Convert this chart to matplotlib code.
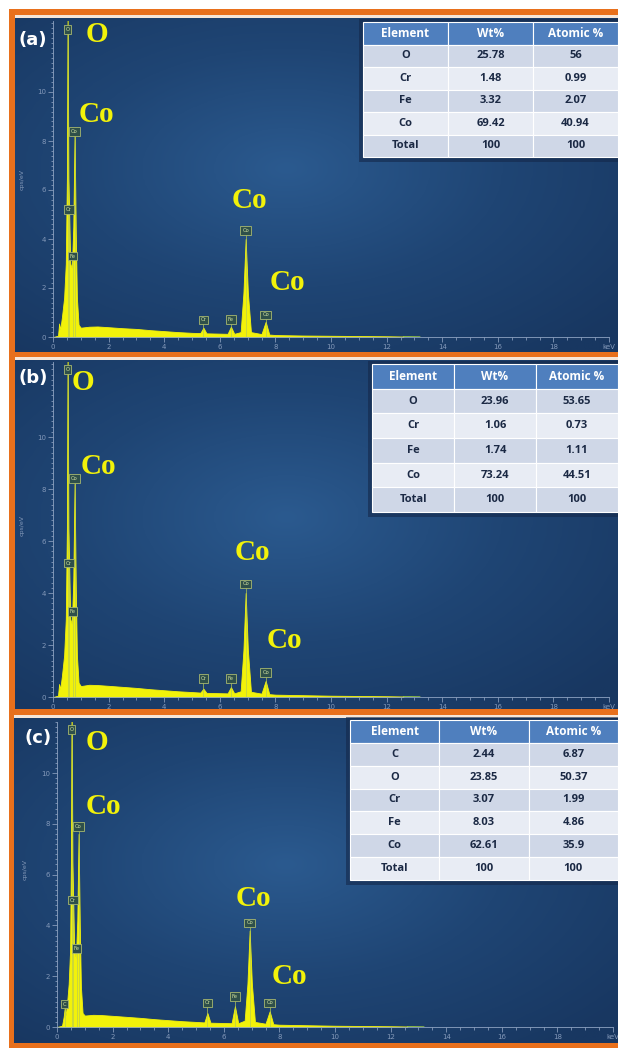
import numpy as np
import matplotlib.pyplot as plt
import matplotlib.colors as mcolors
from matplotlib.patches import Rectangle
from matplotlib.ticker import MultipleLocator

W, H = 618, 1048

# EDS spectra (energy in keV, counts in cps/eV)
energy_a = [0.0, 0.18, 0.22, 0.26, 0.32, 0.40, 0.46, 0.50, 0.525, 0.555, 0.62, 0.68, 0.73, 0.776,
            0.82, 0.86, 0.92, 1.0, 1.3, 1.6, 2.0, 2.5, 3.0, 3.5, 4.0, 4.5, 5.0, 5.3, 5.41, 5.52,
            5.9, 6.28, 6.40, 6.52, 6.75, 6.85, 6.93, 7.01, 7.12, 7.5, 7.65, 7.78, 8.0, 9.0, 10.0,
            11.0, 12.0, 12.6]
counts_a = [0.0, 0.05, 0.55, 0.3, 0.8, 1.6, 3.0, 6.5, 13.5, 6.5, 3.0, 2.8, 4.5, 8.3,
            4.2, 1.6, 0.5, 0.38, 0.42, 0.43, 0.40, 0.36, 0.33, 0.28, 0.24, 0.20, 0.17, 0.16, 0.38, 0.15,
            0.14, 0.13, 0.42, 0.13, 0.20, 1.8, 4.0, 1.8, 0.2, 0.12, 0.62, 0.10, 0.08, 0.06, 0.05,
            0.04, 0.03, 0.02]

energy_b = [0.0, 0.18, 0.22, 0.26, 0.32, 0.40, 0.46, 0.50, 0.525, 0.555, 0.62, 0.68, 0.73, 0.776,
            0.82, 0.86, 0.92, 1.0, 1.3, 1.6, 2.0, 2.5, 3.0, 3.5, 4.0, 4.5, 5.0, 5.3, 5.41, 5.52,
            5.9, 6.28, 6.40, 6.52, 6.75, 6.85, 6.93, 7.01, 7.12, 7.5, 7.65, 7.78, 8.0, 9.0, 10.0,
            11.0, 12.0, 12.6]
counts_b = [0.0, 0.05, 0.5, 0.3, 0.8, 1.6, 3.0, 6.5, 13.5, 6.5, 3.0, 2.8, 4.5, 8.2,
            4.2, 1.6, 0.55, 0.42, 0.47, 0.46, 0.43, 0.39, 0.35, 0.30, 0.26, 0.22, 0.19, 0.17, 0.32, 0.16,
            0.15, 0.14, 0.38, 0.14, 0.22, 1.8, 4.0, 1.8, 0.2, 0.13, 0.62, 0.11, 0.09, 0.07, 0.05,
            0.04, 0.03, 0.02]

energy_c = [0.0, 0.18, 0.24, 0.277, 0.31, 0.36, 0.42, 0.47, 0.50, 0.525, 0.555, 0.62, 0.68, 0.73,
            0.776, 0.82, 0.86, 0.92, 1.0, 1.3, 1.6, 2.0, 2.5, 3.0, 3.5, 4.0, 4.5, 5.0, 5.3, 5.41,
            5.52, 5.9, 6.28, 6.40, 6.52, 6.75, 6.85, 6.93, 7.01, 7.12, 7.5, 7.65, 7.78, 8.0, 9.0,
            10.0, 11.0, 12.0, 12.6]
counts_c = [0.0, 0.05, 0.4, 0.75, 0.45, 0.9, 1.7, 3.0, 6.5, 13.0, 6.5, 3.0, 2.7, 4.2,
            7.6, 4.0, 1.6, 0.55, 0.45, 0.48, 0.47, 0.44, 0.40, 0.36, 0.31, 0.27, 0.23, 0.20, 0.18, 0.55,
            0.17, 0.16, 0.15, 0.82, 0.15, 0.25, 1.7, 3.8, 1.7, 0.2, 0.13, 0.62, 0.11, 0.09, 0.07,
            0.05, 0.04, 0.03, 0.02]

# element marker boxes: (label, energy keV, box height cps/eV)
markers_a = [('O', 0.525, 12.55), ('Co', 0.776, 8.4), ('Cr', 0.573, 5.2), ('Fe', 0.705, 3.3),
             ('Cr', 5.41, 0.7), ('Fe', 6.40, 0.72), ('Co', 6.93, 4.35), ('Co', 7.65, 0.9)]
markers_b = [('O', 0.525, 12.6), ('Co', 0.776, 8.4), ('Cr', 0.573, 5.15), ('Fe', 0.705, 3.3),
             ('Cr', 5.41, 0.7), ('Fe', 6.40, 0.72), ('Co', 6.93, 4.35), ('Co', 7.65, 0.95)]
markers_c = [('O', 0.525, 11.7), ('Co', 0.776, 7.9), ('Cr', 0.573, 5.0), ('Fe', 0.705, 3.1),
             ('C', 0.277, 0.9), ('Cr', 5.41, 0.95), ('Fe', 6.40, 1.2), ('Co', 6.93, 4.1),
             ('Co', 7.65, 0.95)]

# composition tables
table_header = ['Element', 'Wt%', 'Atomic %']
table_a = [['O', '25.78', '56'], ['Cr', '1.48', '0.99'], ['Fe', '3.32', '2.07'],
           ['Co', '69.42', '40.94'], ['Total', '100', '100']]
table_b = [['O', '23.96', '53.65'], ['Cr', '1.06', '0.73'], ['Fe', '1.74', '1.11'],
           ['Co', '73.24', '44.51'], ['Total', '100', '100']]
table_c = [['C', '2.44', '6.87'], ['O', '23.85', '50.37'], ['Cr', '3.07', '1.99'],
           ['Fe', '8.03', '4.86'], ['Co', '62.61', '35.9'], ['Total', '100', '100']]

# layout in pixels: blue area, axes origin, scales, table box, big labels
panels = [
    dict(tag='(a)', energy=energy_a, counts=counts_a, markers=markers_a, table=table_a,
         blue=(15, 18, 618, 352), x0=53, pxk=27.8, y0=337, ymax=12.9, pxu=24.5,
         tbl=(363, 22, 618, 157), tagxy=(33, 40), ylab=(22, 180),
         big=[('O', 97, 34), ('Co', 96, 115), ('Co', 249, 201), ('Co', 287, 283)]),
    dict(tag='(b)', energy=energy_b, counts=counts_b, markers=markers_b, table=table_b,
         blue=(15, 360, 618, 709), x0=53, pxk=27.8, y0=697, ymax=12.9, pxu=26.0,
         tbl=(372, 364, 618, 512), tagxy=(33, 378), ylab=(22, 525),
         big=[('O', 83, 382), ('Co', 98, 466), ('Co', 252, 553), ('Co', 284, 641)]),
    dict(tag='(c)', energy=energy_c, counts=counts_c, markers=markers_c, table=table_c,
         blue=(14, 718, 618, 1043), x0=57, pxk=27.8, y0=1027, ymax=12.0, pxu=25.4,
         tbl=(350, 720, 618, 880), tagxy=(38, 738), ylab=(25, 870),
         big=[('O', 97, 743), ('Co', 103, 806), ('Co', 253, 898), ('Co', 289, 976)]),
]

orange = '#e8701c'
yellow = '#f2f20a'
tick_col = '#8499b9'
blue_map = mcolors.LinearSegmentedColormap.from_list('bl', ['#2b5a8f', '#1f4574', '#183761'])

fig = plt.figure(figsize=(W / 100, H / 100), dpi=100)
fig.patch.set_facecolor('white')

# background layer in pixel coordinates
bg = fig.add_axes([0, 0, 1, 1], zorder=0)
bg.add_patch(Rectangle((9, 9), W - 9, H - 9, color=orange, lw=0, zorder=1))

yy, xx = np.mgrid[0:1:120j, 0:1:120j]
r = np.sqrt(((xx - 0.45) / 0.9) ** 2 + ((yy - 0.45) / 0.9) ** 2)
for p in panels:
    x1, y1, x2, y2 = p['blue']
    bg.add_patch(Rectangle((x1, y1 - 3), x2 - x1, 3, color='#f6e6d8', lw=0, zorder=2))
    bg.imshow(r, cmap=blue_map, extent=(x1, x2, y2, y1), aspect='auto', vmin=0, vmax=0.8,
              interpolation='bilinear', zorder=3)
bg.set_xlim(0, W)
bg.set_ylim(H, 0)
bg.axis('off')

# spectra
for p in panels:
    left = p['x0'] / W
    width = 20 * p['pxk'] / W
    bottom = 1 - p['y0'] / H
    height = p['ymax'] * p['pxu'] / H
    ax = fig.add_axes([left, bottom, width, height], zorder=1)
    ax.set_facecolor('none')
    ax.fill_between(p['energy'], p['counts'], 0, color=yellow, lw=0.6, edgecolor=yellow)
    ax.plot([12.6, 13.2], [0.02, 0.01], color='#9ccc40', lw=0.6)
    for lab, e, h in p['markers']:
        ax.plot([e, e], [0, h], color='#b8cc50', lw=0.6, alpha=0.8, zorder=2)
        ax.text(e, h, lab, fontsize=3.8, color='#d0e0a0', ha='center', va='center', zorder=3,
                bbox=dict(boxstyle='square,pad=0.35', fc='#2e4f4a', ec='#a7b870', lw=0.6))
    ax.set_xlim(0, 20)
    ax.set_ylim(0, p['ymax'])
    for s in ['top', 'right']:
        ax.spines[s].set_visible(False)
    for s in ['left', 'bottom']:
        ax.spines[s].set_color('#8ea3c2')
        ax.spines[s].set_linewidth(0.6)
    ax.xaxis.set_minor_locator(MultipleLocator(0.5))
    ax.yaxis.set_minor_locator(MultipleLocator(0.2))
    ax.set_yticks([0, 2, 4, 6, 8, 10])
    ax.set_xticks(range(0, 21, 2))
    ax.set_xticklabels(['0', '2', '4', '6', '8', '10', '12', '14', '16', '18', 'keV'])
    ax.tick_params(which='both', colors=tick_col, labelsize=5, width=0.6, pad=1.5)
    ax.tick_params(which='major', length=3.5)
    ax.tick_params(which='minor', length=1.8)

# overlay: tables, labels
ov = fig.add_axes([0, 0, 1, 1], zorder=2)
ov.set_facecolor('none')
ov.set_xlim(0, W)
ov.set_ylim(H, 0)
ov.axis('off')

for p in panels:
    tx1, ty1, tx2, ty2 = p['tbl']
    rows = [table_header] + p['table']
    nrow = len(rows)
    rh = (ty2 - ty1) / nrow
    cw = (tx2 - tx1) / 3
    ov.add_patch(Rectangle((tx1 - 4, ty1 - 3), tx2 - tx1 + 8, ty2 - ty1 + 8,
                           color='#14284a', alpha=0.6, lw=0))
    for i, row in enumerate(rows):
        if i == 0:
            fc, tc, fs = '#4f7fbe', 'white', 8.5
        else:
            fc, tc, fs = ('#cfd7e7' if i % 2 == 1 else '#e8ecf4'), '#1b2944', 8
        for j, val in enumerate(row):
            ov.add_patch(Rectangle((tx1 + j * cw, ty1 + i * rh), cw, rh, fc=fc,
                                   ec='white', lw=0.8))
            ov.text(tx1 + (j + 0.5) * cw, ty1 + (i + 0.5) * rh, val, color=tc, fontsize=fs,
                    ha='center', va='center', fontweight='bold', family='Open Sans')
    for lab, x, y in p['big']:
        ov.text(x, y, lab, color=yellow, fontsize=21, fontweight='bold',
                family='Liberation Serif', ha='center', va='center')
    ov.text(p['tagxy'][0], p['tagxy'][1], p['tag'], color='white', fontsize=13,
            fontweight='bold', ha='center', va='center')
    ov.text(p['ylab'][0], p['ylab'][1], 'cps/eV', color=tick_col, fontsize=4.5,
            rotation=90, ha='center', va='center')

fig.savefig('out.png', dpi=100)
